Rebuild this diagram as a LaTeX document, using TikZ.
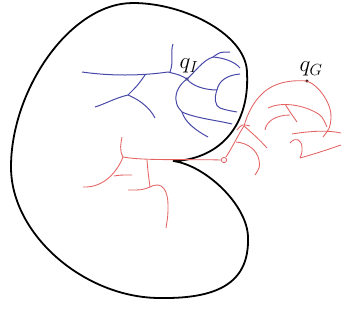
\documentclass[tikz,border=0pt]{standalone}
\usepackage{fix-cm}
\begin{document}
\begin{tikzpicture}[x=1pt,y=-1pt,
  outline/.style={line width=1.8pt,black},
  bl/.style={line width=1pt,color={rgb,255:red,72;green,72;blue,168}},
  rd/.style={line width=0.85pt,color={rgb,255:red,228;green,98;blue,98}},
  dotst/.style={circle,fill=black,inner sep=0pt,minimum size=3.4pt},
  lab/.style={inner sep=0pt,font=\fontsize{23}{26}\selectfont}]
\useasboundingbox (0,0) rectangle (342,325);
% outline
\coordinate (C) at (173,161);
\draw[outline,line join=miter] (C) .. controls (215,160) and (250,130) .. (247,73)
  .. controls (247,35) and (185,3) .. (133,3)
  .. controls (70,3) and (11,90) .. (11,167)
  .. controls (11,235) and (85,298) .. (160,298)
  .. controls (222,299) and (249,280) .. (248,238)
  .. controls (248,205) and (205,165) .. (C);
% points
\node[dotst] (qI) at (187,79) {};
\node[dotst] (qG) at (307,81) {};
\node[lab] (qIl) at (189,66) {$q_I$};
\node[lab] (qGl) at (311,69) {$q_G$};
% blue tree
\draw[bl] (qI.center) .. controls (180,75) .. (168,72) .. controls (140,76) and (110,76) .. (82,72);
\draw[bl] (170,72) .. controls (174,62) and (170,52) .. (173,44);
\draw[bl] (145,75) .. controls (138,85) .. (128,95);
\draw[bl] (128,95) .. controls (115,98) and (105,104) .. (95,107);
\draw[bl] (128,95) .. controls (140,100) and (150,108) .. (155,118);
\draw[bl] (qI.center) .. controls (195,72) and (203,60) .. (213,57);
\draw[bl] (213,57) .. controls (220,52) .. (230,52);
\draw[bl] (213,57) .. controls (225,58) and (235,62) .. (240,68);
\draw[bl] (qI.center) .. controls (192,86) and (205,90) .. (217,90);
\draw[bl] (217,90) .. controls (219,80) and (228,75) .. (240,74);
\draw[bl] (217,90) .. controls (214,98) and (215,106) .. (220,108) .. controls (226,110) .. (237,112);
\draw[bl] (qI.center) .. controls (180,84) and (175,92) .. (176,100) .. controls (177,106) .. (182,112);
\draw[bl] (182,112) .. controls (195,118) and (215,120) .. (232,124);
\draw[bl] (182,112) .. controls (185,122) and (195,130) .. (208,137);
% red tree, left part
\draw[rd] (123,157) .. controls (145,161) and (190,159) .. (221,160);
\draw[rd] (123,157) .. controls (119,150) and (121,143) .. (122,137);
\draw[rd] (123,157) .. controls (118,170) and (105,188) .. (83,187);
\draw[rd] (114,176) .. controls (120,175) .. (132,175);
\draw[rd] (147,160) .. controls (148,172) .. (150,187);
\draw[rd] (150,187) .. controls (142,190) .. (128,190);
\draw[rd] (150,187) .. controls (163,180) and (168,192) .. (168,205) .. controls (168,215) .. (166,228);
% blob
\draw[rd] (224,160) circle (2.6);
% red tree, middle
\coordinate (T) at (244,126);
\draw[rd] (226,157) .. controls (232,148) and (238,135) .. (T);
\draw[rd] (T) .. controls (248,112) and (255,98) .. (268,89) .. controls (280,81) and (295,80) .. (qG.center);
\draw[rd] (237,130) .. controls (242,124) .. (250,126);
\draw[rd] (T) .. controls (252,133) and (260,140) .. (267,148);
\draw[rd] (236,142) .. controls (248,143) and (257,150) .. (259,160) .. controls (260,167) .. (255,175);
% red tree, right part
\draw[rd] (qG.center) .. controls (320,86) and (332,105) .. (331,118) .. controls (330,128) .. (323,137);
\draw[rd] (268,108) .. controls (280,102) and (300,104) .. (315,112) .. controls (322,116) .. (327,127);
\draw[rd] (285,104) .. controls (290,112) .. (297,122);
\draw[rd] (265,130) .. controls (266,122) and (275,115) .. (290,115);
\draw[rd] (292,134) .. controls (310,131) and (328,130) .. (341,133);
\draw[rd] (290,143) .. controls (296,136) and (302,140) .. (302,148) .. controls (302,153) .. (300,158);
\draw[rd] (300,158) .. controls (318,153) and (332,148) .. (341,145);
\end{tikzpicture}
\end{document}
